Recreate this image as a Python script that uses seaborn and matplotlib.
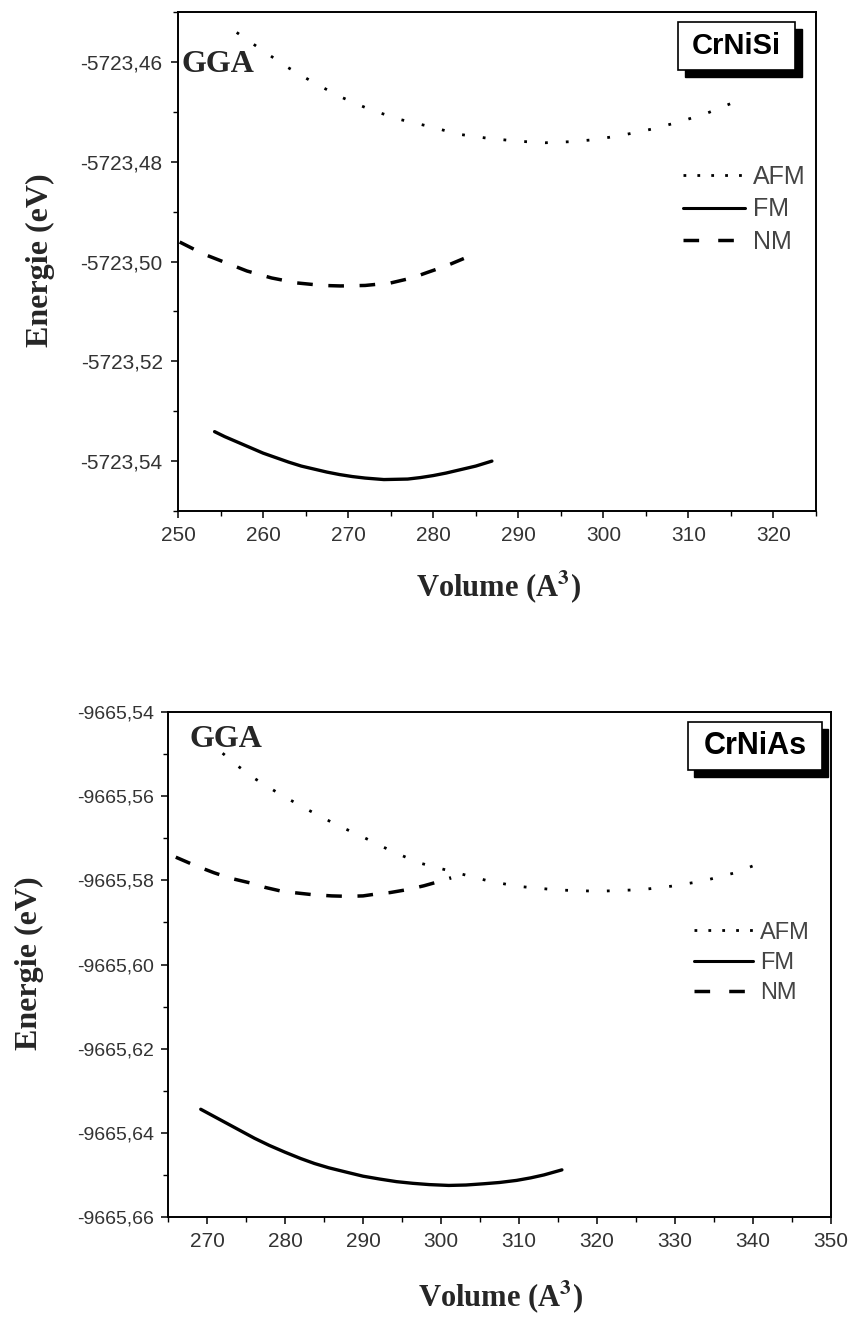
"""E(V) curves for CrNiSi and CrNiAs (GGA), AFM / FM / NM"""
# %% Imports
import numpy as np
import pandas as pd
import seaborn as sns
from matplotlib import pyplot as plt
from matplotlib.lines import Line2D
from matplotlib.patches import Rectangle
from matplotlib.ticker import MultipleLocator, FuncFormatter

# %% Data (volume in A^3, energy in eV)
crnisi_afm_v = [256.9, 259.5, 262.8, 266.0, 269.1, 272.5, 276.0, 279.7, 283.0, 286.4,
                290.0, 293.2, 296.0, 298.9, 302.2, 305.6, 309.0, 312.3, 316.5]
crnisi_afm_e = [-5723.4541, -5723.4572, -5723.4610, -5723.4642, -5723.4670, -5723.4695,
                -5723.4715, -5723.4730, -5723.4745, -5723.4753, -5723.4759, -5723.4762,
                -5723.4760, -5723.4756, -5723.4747, -5723.4735, -5723.4720, -5723.4702,
                -5723.4673]
crnisi_nm_v = [250.2, 253.0, 256.0, 258.1, 261.0, 264.0, 267.0, 269.1, 272.0, 275.0,
               277.5, 279.3, 281.5, 283.6]
crnisi_nm_e = [-5723.4961, -5723.4985, -5723.5005, -5723.5019, -5723.5033, -5723.5043,
               -5723.5048, -5723.5049, -5723.5048, -5723.5043, -5723.5033, -5723.5022,
               -5723.5009, -5723.4994]
crnisi_fm_v = [254.3, 255.5, 257.0, 258.5, 260.0, 261.5, 263.0, 264.5, 266.0, 267.5, 269.0,
               270.5, 272.0, 274.2, 277.0, 278.5, 280.0, 281.5, 283.0, 285.0, 286.9]
crnisi_fm_e = [-5723.5341, -5723.5351, -5723.5362, -5723.5373, -5723.5384, -5723.5393,
               -5723.5402, -5723.5410, -5723.5416, -5723.5422, -5723.5427, -5723.5431,
               -5723.5434, -5723.5437, -5723.5436, -5723.5433, -5723.5429, -5723.5424,
               -5723.5418, -5723.5410, -5723.5400]

crnias_afm_v = [272.0, 274.0, 276.1, 279.5, 283.1, 286.5, 290.1, 293.5, 297.1, 302.0,
                306.0, 309.7, 315.0, 320.2, 325.8, 329.5, 333.5, 337.5, 341.1]
crnias_afm_e = [-9665.5498, -9665.5529, -9665.5558, -9665.5597, -9665.5634, -9665.5667,
                -9665.5698, -9665.5729, -9665.5758, -9665.5782, -9665.5801, -9665.5814,
                -9665.5823, -9665.5826, -9665.5822, -9665.5814, -9665.5802, -9665.5783,
                -9665.5758]
crnias_nm_v = [266.0, 268.5, 270.9, 273.0, 275.5, 277.5, 279.6, 281.5, 283.5, 286.0, 288.0,
               290.0, 291.5, 293.5, 295.7, 297.8, 299.9, 301.3]
crnias_nm_e = [-9665.5745, -9665.5765, -9665.5782, -9665.5795, -9665.5806, -9665.5817,
               -9665.5826, -9665.5830, -9665.5834, -9665.5837, -9665.5838, -9665.5837,
               -9665.5833, -9665.5829, -9665.5822, -9665.5813, -9665.5802, -9665.5794]
crnias_fm_v = [269.2, 271.0, 272.7, 274.5, 276.1, 278.0, 280.0, 282.0, 283.8, 285.6, 288.0,
               290.0, 292.2, 294.3, 296.4, 298.5, 301.0, 303.2, 305.5, 307.5, 309.7, 311.5,
               313.2, 315.5]
crnias_fm_e = [-9665.6344, -9665.6362, -9665.6379, -9665.6397, -9665.6413, -9665.6430,
               -9665.6446, -9665.6461, -9665.6473, -9665.6483, -9665.6494, -9665.6503,
               -9665.6510, -9665.6516, -9665.6520, -9665.6523, -9665.6525, -9665.6524,
               -9665.6521, -9665.6518, -9665.6513, -9665.6507, -9665.6500, -9665.6488]

phases = ["AFM", "FM", "NM"]
compounds = ["CrNiSi", "CrNiAs"]

# %% Style
sns.set_style("ticks")
plt.rcParams["font.family"] = ["Liberation Sans", "DejaVu Sans"]
plt.rcParams["mathtext.fontset"] = "stix"
plt.rcParams["mathtext.default"] = "bf"

LINE_STYLES = {
    "AFM": dict(linestyle=(0, (1, 6.5)), linewidth=2.0),
    "FM": dict(linestyle="-", linewidth=2.4, solid_joinstyle="round"),
    "NM": dict(linestyle=(0, (4.5, 4.5)), linewidth=2.5),
}
LEGEND_STYLES = {
    "AFM": dict(linestyle=(0, (1, 4)), linewidth=2.0),
    "FM": dict(linestyle="-", linewidth=2.2),
    "NM": dict(linestyle=(0, (4.5, 5.5)), linewidth=2.5),
}
W, H = 853, 1317


def _axes_rect(left, top, right, bottom):
    return [left / W, 1 - bottom / H, (right - left) / W, (bottom - top) / H]


def _comma_fmt(v, pos):
    return f"{v:.2f}".replace(".", ",")


def _plot_panel(ax, curves, xlim, ylim, ytick_size, xtick_size, ypad):
    for phase in phases:
        v, e = curves[phase]
        df = pd.DataFrame({"volume": v, "energy": e})
        sns.lineplot(data=df, x="volume", y="energy", ax=ax, color="black", sort=False,
                     estimator=None, **LINE_STYLES[phase])
    ax.set_xlim(*xlim)
    ax.set_ylim(*ylim)
    ax.xaxis.set_major_locator(MultipleLocator(10))
    ax.xaxis.set_minor_locator(MultipleLocator(5))
    ax.yaxis.set_major_locator(MultipleLocator(0.02))
    ax.yaxis.set_minor_locator(MultipleLocator(0.01))
    ax.yaxis.set_major_formatter(FuncFormatter(_comma_fmt))
    ax.tick_params(which="major", direction="out", length=5, width=1.1, color="black")
    ax.tick_params(which="minor", direction="out", length=3.5, width=1.0, color="black")
    ax.tick_params(axis="y", which="major", labelsize=ytick_size, labelcolor="#333333", pad=ypad)
    ax.tick_params(axis="x", which="major", labelsize=xtick_size, labelcolor="#333333", pad=6)
    for s in ax.spines.values():
        s.set_visible(True)
        s.set_linewidth(1.4)
        s.set_color("black")
    ax.set_xlabel("")
    ax.set_ylabel("")


def _label_box(ax, text, x0, x1, y0, y1, dx, dy, size):
    ax.add_patch(Rectangle((x0 + dx, y0 - dy), x1 - x0, y1 - y0, transform=ax.transAxes,
                           facecolor="black", edgecolor="black", zorder=5, clip_on=False))
    ax.add_patch(Rectangle((x0, y0), x1 - x0, y1 - y0, transform=ax.transAxes,
                           facecolor="white", edgecolor="black", linewidth=1.2, zorder=6,
                           clip_on=False))
    ax.text((x0 + x1) / 2, (y0 + y1) / 2, text, transform=ax.transAxes, ha="center",
            va="center", fontsize=size, fontweight="bold", color="black", zorder=7)


def _legend(ax, x, y, size):
    handles = [Line2D([], [], color="black", **LEGEND_STYLES[p]) for p in phases]
    ax.legend(handles, phases, loc="upper left", bbox_to_anchor=(x, y), frameon=False,
              fontsize=size, handlelength=2.5, handletextpad=0.3, labelspacing=0.35,
              borderpad=0, borderaxespad=0, labelcolor="#444444")


# %% Figure
fig = plt.figure(figsize=(W / 100, H / 100), dpi=100)
ax1 = fig.add_axes(_axes_rect(178, 12, 816, 511))
ax2 = fig.add_axes(_axes_rect(168, 712, 831, 1217))

_plot_panel(ax1, {"AFM": (crnisi_afm_v, crnisi_afm_e), "FM": (crnisi_fm_v, crnisi_fm_e),
                  "NM": (crnisi_nm_v, crnisi_nm_e)},
            (250, 325), (-5723.55, -5723.45), 15, 15, 6)
_plot_panel(ax2, {"AFM": (crnias_afm_v, crnias_afm_e), "FM": (crnias_fm_v, crnias_fm_e),
                  "NM": (crnias_nm_v, crnias_nm_e)},
            (265, 350), (-9665.66, -9665.54), 14, 15, 5)

serif = ["Liberation Serif", "DejaVu Serif"]
for ax, gx, gy in [(ax1, 0.006, 0.88), (ax2, 0.033, 0.931)]:
    ax.text(gx, gy, "GGA", transform=ax.transAxes, family=serif, fontsize=23,
            fontweight="bold", va="baseline", ha="left")

_label_box(ax1, compounds[0], 0.7837, 0.967, 0.8838, 0.98, 0.011, 0.014, 21)
_label_box(ax2, compounds[1], 0.785, 0.986, 0.885, 0.980, 0.009, 0.013, 22)

_legend(ax1, 0.7915, 0.694, 18)
_legend(ax2, 0.7934, 0.585, 17)

# axis titles placed in figure pixels
for cx, cy in [(40, 260), (29, 963)]:
    fig.text(cx / W, 1 - cy / H, "Energie (eV)", rotation=90, ha="center", va="center",
             family=serif, fontsize=23, fontweight="bold")
for cx, cy in [(499, 587), (501, 1297)]:
    fig.text(cx / W, 1 - cy / H, "Volume (A$^3$)", ha="center", va="center",
             family=serif, fontsize=22, fontweight="bold")

fig.savefig("out.png", dpi=100)
